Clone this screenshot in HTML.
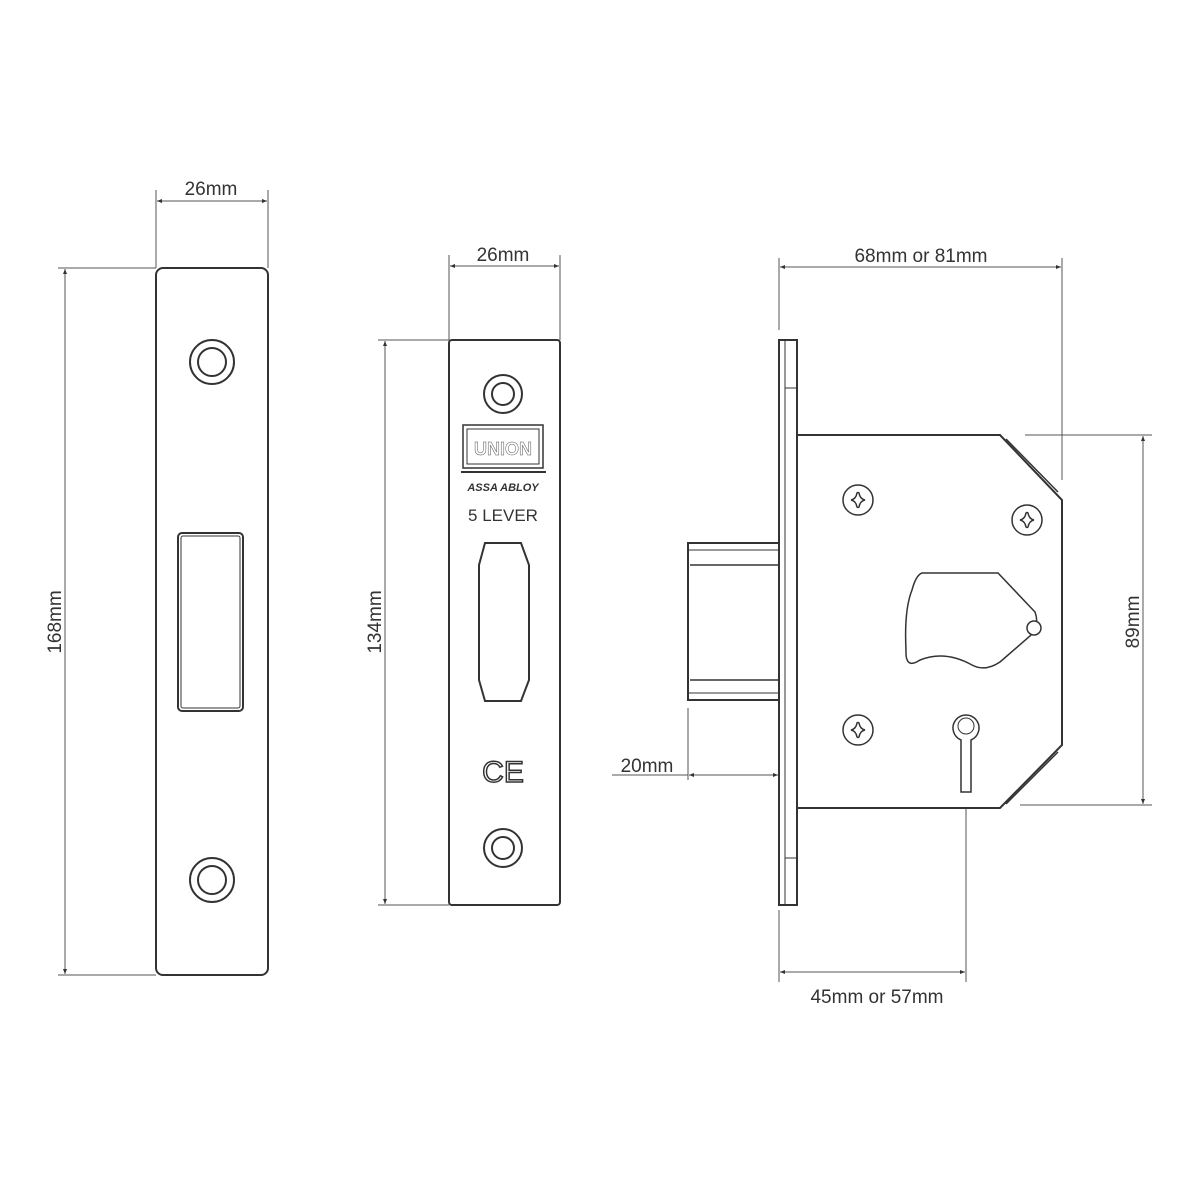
<!DOCTYPE html>
<html><head><meta charset="utf-8"><style>
html,body{margin:0;padding:0;background:#fff}
svg{display:block}
text{font-family:"Liberation Sans",sans-serif;fill:#333}
</style></head><body>
<svg width="1200" height="1200" viewBox="0 0 1200 1200" xmlns="http://www.w3.org/2000/svg">
<defs>
<marker id="a" viewBox="0 0 10 10" refX="10" refY="5" markerWidth="7" markerHeight="5" orient="auto-start-reverse"><path d="M0,1 L10,5 L0,9 z" fill="#333"/></marker>
<path id="x" d="M-7,0 Q-2,-1 -1,-7 Q0,-8 1,-7 Q2,-1 7,0 Q2,1 1,7 Q0,8 -1,7 Q-2,1 -7,0 Z"/>
</defs>
<g stroke="#555" stroke-width="1" fill="none">
<line x1="156" y1="190" x2="156" y2="268"/><line x1="268" y1="190" x2="268" y2="268"/>
<line x1="157" y1="201" x2="267" y2="201" marker-start="url(#a)" marker-end="url(#a)"/>
<line x1="58" y1="268" x2="156" y2="268"/><line x1="58" y1="975" x2="156" y2="975"/>
<line x1="65" y1="269" x2="65" y2="974" marker-start="url(#a)" marker-end="url(#a)"/>
<line x1="449" y1="255" x2="449" y2="340"/><line x1="560" y1="255" x2="560" y2="340"/>
<line x1="450" y1="266" x2="559" y2="266" marker-start="url(#a)" marker-end="url(#a)"/>
<line x1="378" y1="340" x2="449" y2="340"/><line x1="378" y1="905" x2="449" y2="905"/>
<line x1="385" y1="341" x2="385" y2="904" marker-start="url(#a)" marker-end="url(#a)"/>
<line x1="779" y1="258" x2="779" y2="330"/><line x1="1062" y1="258" x2="1062" y2="480"/>
<line x1="780" y1="267" x2="1061" y2="267" marker-start="url(#a)" marker-end="url(#a)"/>
<line x1="1025" y1="435" x2="1152" y2="435"/><line x1="1020" y1="805" x2="1152" y2="805"/>
<line x1="1143" y1="436" x2="1143" y2="804" marker-start="url(#a)" marker-end="url(#a)"/>
<line x1="779" y1="910" x2="779" y2="982"/><line x1="966" y1="800" x2="966" y2="982"/>
<line x1="780" y1="972" x2="965" y2="972" marker-start="url(#a)" marker-end="url(#a)"/>
<line x1="688" y1="708" x2="688" y2="780"/>
<line x1="612" y1="775" x2="688" y2="775"/>
<line x1="689" y1="775" x2="778" y2="775" marker-start="url(#a)" marker-end="url(#a)"/>
<line x1="966" y1="705" x2="966" y2="748" stroke-dasharray="3,3"/>
<line x1="945" y1="727" x2="988" y2="727" stroke-dasharray="3,3"/>
</g>
<g font-size="19" text-anchor="middle">
<text x="211" y="195">26mm</text>
<text x="503" y="261">26mm</text>
<text x="921" y="262">68mm or 81mm</text>
<text x="877" y="1003">45mm or 57mm</text>
<text x="647" y="772">20mm</text>
<text transform="translate(61,622) rotate(-90)">168mm</text>
<text transform="translate(381,622) rotate(-90)">134mm</text>
<text transform="translate(1139,622) rotate(-90)">89mm</text>
</g>
<g stroke="#333" stroke-width="2" fill="#fff">
<rect x="156" y="268" width="112" height="707" rx="7"/>
<circle cx="212" cy="362" r="22"/><circle cx="212" cy="362" r="14"/>
<circle cx="212" cy="880" r="22"/><circle cx="212" cy="880" r="14"/>
<rect x="178" y="533" width="65" height="178" rx="4"/>
<rect x="181" y="536" width="59" height="172" rx="2" stroke-width="1"/>
<rect x="449" y="340" width="111" height="565" rx="3"/>
<circle cx="503" cy="394" r="19"/><circle cx="503" cy="394" r="11"/>
<circle cx="503" cy="848" r="19"/><circle cx="503" cy="848" r="11"/>
<rect x="463" y="425" width="80" height="43" stroke-width="1.5"/>
<rect x="467" y="429" width="72" height="35" stroke-width="1"/>
<line x1="461" y1="472" x2="546" y2="472" stroke-width="2"/>
<path d="M485,543 L521,543 L529,565 L529,680 L521,701 L485,701 L479,680 L479,565 Z"/>
<rect x="688" y="543" width="91" height="157"/>
<line x1="688" y1="550" x2="779" y2="550" stroke-width="1"/>
<line x1="690" y1="565" x2="779" y2="565" stroke-width="1.5"/>
<line x1="690" y1="680" x2="779" y2="680" stroke-width="1.5"/>
<line x1="688" y1="693" x2="779" y2="693" stroke-width="1"/>
<rect x="779" y="340" width="18" height="565"/>
<line x1="785" y1="388" x2="797" y2="388" stroke-width="1"/>
<line x1="785" y1="858" x2="797" y2="858" stroke-width="1"/>
<line x1="785" y1="340" x2="785" y2="905" stroke-width="1"/>
<path d="M797,435 L1000,435 L1062,500 L1062,745 L1000,808 L797,808 Z"/>
<line x1="1006" y1="439" x2="1058" y2="492" stroke-width="1.5"/>
<line x1="1006" y1="804" x2="1058" y2="752" stroke-width="1.5"/>
<path d="M922,573 L998,573 L1035,612 Q1040,625 1030,636 L1000,662 Q985,672 972,665 Q945,650 920,660 Q905,670 906,650 Q904,610 912,590 Q916,575 922,573 Z" stroke-width="1.5"/>
<circle cx="1034" cy="628" r="7" stroke-width="1.5"/>
<g stroke-width="1.5">
<circle cx="858" cy="500" r="15"/><use href="#x" x="858" y="500"/>
<circle cx="1027" cy="520" r="15"/><use href="#x" x="1027" y="520"/>
<circle cx="858" cy="730" r="15"/><use href="#x" x="858" y="730"/>
<path d="M961,740 A13,13 0 1 1 971,740 L971,792 L961,792 Z"/>
<circle cx="966" cy="726" r="8" stroke-width="1"/>
</g>
</g>
<g font-size="17" text-anchor="middle">
<text x="503" y="455" font-weight="bold" font-size="18" stroke="#555" stroke-width="0.5" style="fill:#fff">UNION</text>
<text x="503" y="491" font-size="11" font-style="italic" font-weight="bold">ASSA ABLOY</text>
<text x="503" y="521">5 LEVER</text>
<text x="503" y="782" font-size="30" style="fill:#fff" stroke="#333" stroke-width="1.5">CE</text>
</g>
</svg>
</body></html>
